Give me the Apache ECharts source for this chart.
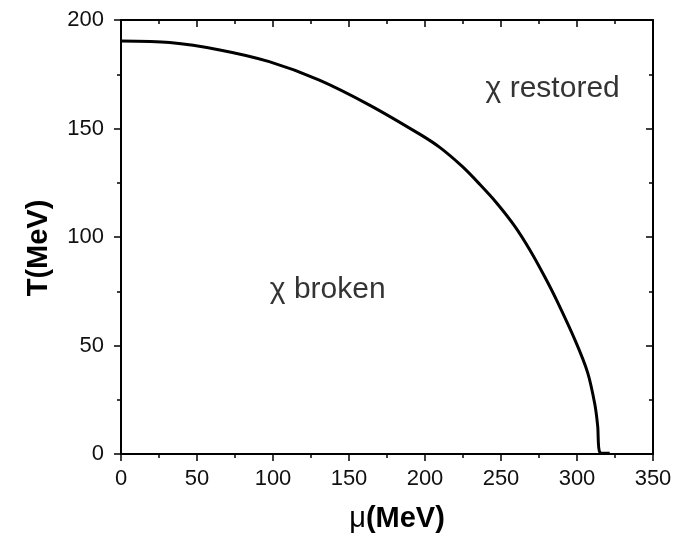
<!DOCTYPE html>
<html>
<head>
<meta charset="utf-8">
<style>
  html, body { margin: 0; padding: 0; background: #fff; }
  #chart { width: 678px; height: 536px; }
</style>
<script src="https://cdn.jsdelivr.net/npm/echarts@6/dist/echarts.min.js"></script>
</head>
<body>
<div id="chart"></div>
<script>
// Chiral phase boundary T(mu)
const muValues = [0, 32, 65, 97.5, 130.5, 163.5, 196.5, 209.5, 224.5, 236, 247, 259, 269, 278.5, 286.5, 299, 307, 311.7, 313.6, 315, 321.5];
const tValues  = [190.3, 189.6, 186.2, 180.8, 172.3, 160.8, 147.4, 141.4, 132.5, 124.3, 115.8, 105, 94, 82, 71, 52, 37.5, 23, 13, 0.8, 0.3];

// Region labels placed in data coordinates
const regionLabels = [
  { text: 'χ restored', mu: 284, t: 168.5 },
  { text: 'χ broken', mu: 136, t: 75.5 }
];

const xTicks = [0, 50, 100, 150, 200, 250, 300, 350];
const yTicks = [0, 50, 100, 150, 200];

const font = '"Liberation Sans", Arial, sans-serif';
const axisLine = { onZero: false, lineStyle: { color: '#000', width: 2 } };
const outTick = { inside: false, length: 7, lineStyle: { color: '#000', width: 1.5 } };
const inTick = { inside: true, length: 7, lineStyle: { color: '#000', width: 1.5 } };
const minorStyle = { show: true, splitNumber: 2, length: 4, lineStyle: { color: '#000', width: 1.5 } };

const chart = echarts.init(document.getElementById('chart'), null, { renderer: 'canvas' });
chart.setOption({
  animation: false,
  backgroundColor: '#fff',
  grid: { left: 121, right: 25, top: 20, bottom: 82, containLabel: false, outerBoundsMode: 'none' },
  xAxis: [
    {
      type: 'value', min: 0, max: 350, interval: 50, position: 'bottom',
      name: '{m|μ}{b|(MeV)}', nameLocation: 'middle', nameGap: 50,
      nameTextStyle: {
        fontFamily: font, fontSize: 29, color: '#000', padding: [0, 0, 0, 20],
        rich: {
          m: { fontFamily: font, fontSize: 29, color: '#000', fontWeight: 'normal' },
          b: { fontFamily: font, fontSize: 29, color: '#000', fontWeight: 'bold' }
        }
      },
      axisLine: axisLine, axisTick: outTick, minorTick: minorStyle,
      axisLabel: { fontFamily: font, fontSize: 22, color: '#111', margin: 14,
        formatter: v => xTicks.includes(v) ? String(v) : '' },
      splitLine: { show: false }
    },
    {
      type: 'value', min: 0, max: 350, interval: 50, position: 'top',
      axisLine: axisLine, axisTick: inTick, minorTick: minorStyle,
      axisLabel: { show: false }, splitLine: { show: false }
    }
  ],
  yAxis: [
    {
      type: 'value', min: 0, max: 200, interval: 50, position: 'left',
      name: 'T(MeV)', nameLocation: 'middle', nameGap: 68, nameRotate: 90,
      nameTextStyle: { fontFamily: font, fontSize: 29, color: '#000', fontWeight: 'bold', padding: [0, 22, 0, 0] },
      axisLine: axisLine, axisTick: outTick, minorTick: minorStyle,
      axisLabel: { fontFamily: font, fontSize: 22, color: '#111', margin: 17,
        formatter: v => yTicks.includes(v) ? String(v) : '' },
      splitLine: { show: false }
    },
    {
      type: 'value', min: 0, max: 200, interval: 50, position: 'right',
      axisLine: axisLine, axisTick: inTick, minorTick: minorStyle,
      axisLabel: { show: false }, splitLine: { show: false }
    }
  ],
  series: [
    {
      type: 'line',
      xAxisIndex: 0, yAxisIndex: 0,
      data: muValues.map((m, i) => [m, tValues[i]]),
      smooth: 0.3,
      showSymbol: false,
      lineStyle: { color: '#000', width: 3 }
    },
    {
      type: 'scatter',
      xAxisIndex: 0, yAxisIndex: 0,
      symbolSize: 0,
      data: regionLabels.map(r => ({ value: [r.mu, r.t], name: r.text })),
      label: {
        show: true, position: 'inside',
        formatter: p => p.name,
        fontFamily: font, fontSize: 30, color: '#000'
      }
    }
  ]
});
</script>
</body>
</html>
